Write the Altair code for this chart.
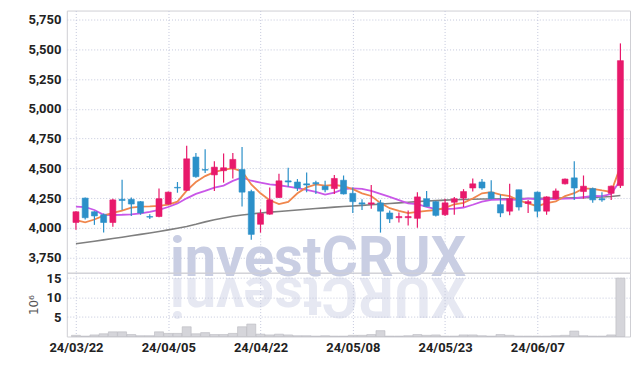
import altair as alt
import pandas as pd

dates = ["24/03/22", "24/03/25", "24/03/26", "24/03/27", "24/03/28", "24/03/29",
         "24/04/01", "24/04/02", "24/04/03", "24/04/04", "24/04/05", "24/04/08",
         "24/04/09", "24/04/11", "24/04/12", "24/04/15", "24/04/16", "24/04/17",
         "24/04/18", "24/04/19", "24/04/22", "24/04/23", "24/04/24", "24/04/25",
         "24/04/26", "24/04/29", "24/04/30", "24/05/02", "24/05/03", "24/05/07",
         "24/05/08", "24/05/09", "24/05/10", "24/05/13", "24/05/14", "24/05/16",
         "24/05/17", "24/05/20", "24/05/21", "24/05/22", "24/05/23", "24/05/24",
         "24/05/27", "24/05/28", "24/05/29", "24/05/30", "24/05/31", "24/06/03",
         "24/06/04", "24/06/05", "24/06/07", "24/06/10", "24/06/11", "24/06/12",
         "24/06/13", "24/06/14", "24/06/17", "24/06/18", "24/06/19", "24/06/20"]

open_ = [4045, 4250, 4135, 4110, 4045, 4240, 4240, 4220, 4095, 4095,
         4200, 4340, 4315, 4595, 4490, 4445, 4480, 4500, 4490, 4305,
         4030, 4115, 4255, 4395, 4385, 4370, 4380, 4350, 4330, 4400,
         4290, 4210, 4200, 4210, 4125, 4085, 4085, 4080, 4245, 4220,
         4110, 4215, 4250, 4335, 4385, 4300, 4195, 4140, 4320, 4205,
         4300, 4140, 4245, 4370, 4420, 4305, 4330, 4245, 4290, 4355]
close = [4135, 4085, 4100, 4045, 4235, 4230, 4200, 4125, 4090, 4245,
         4300, 4335, 4580, 4430, 4485, 4510, 4505, 4575, 4300, 3945,
         4120, 4235, 4395, 4385, 4335, 4360, 4370, 4320, 4415, 4285,
         4220, 4200, 4210, 4140, 4075, 4095, 4095, 4260, 4180, 4105,
         4210, 4245, 4305, 4370, 4335, 4245, 4125, 4245, 4175, 4220,
         4140, 4260, 4310, 4410, 4335, 4350, 4235, 4235, 4350, 5405]
high = [4140, 4255, 4140, 4120, 4245, 4405, 4255, 4225, 4115, 4330,
        4305, 4385, 4690, 4630, 4660, 4560, 4625, 4630, 4680, 4320,
        4155, 4340, 4455, 4505, 4410, 4465, 4395, 4395, 4445, 4440,
        4340, 4240, 4360, 4235, 4145, 4130, 4145, 4300, 4310, 4225,
        4245, 4260, 4325, 4415, 4410, 4400, 4280, 4370, 4320, 4235,
        4305, 4265, 4330, 4415, 4560, 4440, 4340, 4300, 4355, 5550]
low = [3985, 4070, 4025, 3960, 4010, 4150, 4100, 4110, 4075, 4090,
       4195, 4295, 4310, 4420, 4460, 4310, 4380, 4415, 4180, 3900,
       3960, 4110, 4250, 4345, 4310, 4300, 4285, 4300, 4285, 4280,
       4125, 4150, 4160, 3960, 4040, 4045, 4020, 4000, 4180, 4095,
       4100, 4110, 4175, 4305, 4320, 4240, 4090, 4105, 4145, 4125,
       4090, 4110, 4240, 4365, 4235, 4245, 4210, 4220, 4235, 4335]
volume_m = [0.3, 0.1, 0.4, 0.7, 1.2, 1.2, 0.5, 0.2, 0.2, 1.2,
            0.8, 0.8, 2.5, 0.7, 1.0, 0.5, 0.5, 0.8, 2.5, 3.2,
            0.6, 0.4, 0.6, 0.4, 0.2, 0.2, 0.1, 0.2, 0.1, 0.1,
            0.3, 0.3, 0.5, 1.5, 0.1, 0.1, 0.2, 0.5, 0.3, 0.4,
            0.1, 0.1, 0.4, 0.4, 0.2, 0.1, 0.5, 0.3, 0.1, 0.1,
            0.1, 0.1, 0.2, 0.3, 1.4, 0.2, 0.1, 0.1, 0.4, 15.0]
ma5 = [4064, 4047, 4070, 4103, 4125, 4145, 4170, 4178, 4180, 4185,
       4195, 4220, 4312, 4385, 4435, 4468, 4490, 4500, 4475, 4365,
       4290, 4232, 4200, 4218, 4290, 4340, 4365, 4355, 4360, 4350,
       4325, 4290, 4268, 4208, 4165, 4142, 4124, 4134, 4142, 4150,
       4168, 4198, 4210, 4246, 4290, 4300, 4280, 4266, 4230, 4205,
       4182, 4208, 4222, 4267, 4291, 4332, 4328, 4314, 4302, 4515]
ma10 = [4178, 4175, 4150, 4110, 4108, 4110, 4114, 4122, 4135, 4152,
        4175, 4205, 4248, 4285, 4310, 4338, 4355, 4395, 4424, 4396,
        4380, 4366, 4358, 4346, 4333, 4320, 4303, 4280, 4296, 4325,
        4332, 4328, 4310, 4286, 4260, 4233, 4206, 4200, 4176, 4158,
        4157, 4162, 4171, 4194, 4220, 4235, 4238, 4237, 4236, 4247,
        4240, 4242, 4242, 4246, 4247, 4257, 4268, 4267, 4284, 4403]
ma_long = [3866, 3877, 3888, 3899, 3910, 3921, 3933, 3945, 3957, 3970,
           3983, 3997, 4012, 4030, 4050, 4068, 4083, 4097, 4108, 4117,
           4125, 4132, 4138, 4144, 4150, 4156, 4162, 4168, 4174, 4179,
           4184, 4189, 4194, 4199, 4204, 4210, 4215, 4220, 4225, 4229,
           4233, 4236, 4238, 4240, 4242, 4243, 4244, 4245, 4246, 4247,
           4248, 4249, 4250, 4251, 4252, 4254, 4256, 4259, 4263, 4272]

date_ticks = [0, 10, 20, 30, 40, 50]
price_ticks = [3750, 4000, 4250, 4500, 4750, 5000, 5250, 5500, 5750]
volume_ticks = [5, 10, 15]
watermark = "investCRUX"
watermark_reflect = "XURCtsevni"

UP = "#e8196b"
DOWN = "#2b90c9"
GRID = "#c4c8dc"
FONT = "Roboto"

df = pd.DataFrame({
    "i": list(range(len(dates))), "date": dates, "open": open_, "high": high,
    "low": low, "close": close, "vol": volume_m, "ma5": ma5, "ma10": ma10,
    "mal": ma_long,
})

label_expr = " : ".join(
    f"datum.value == {t} ? '{dates[t]}'" for t in date_ticks) + " : ''"

xscale = alt.Scale(domain=[-0.45, 59.5], nice=False, zero=False)
yscale = alt.Scale(domain=[3623, 5826], nice=False, zero=False)
yax = alt.Axis(values=price_ticks, format=",d", title=None,
               minExtent=58, maxExtent=58)

W = 565

x_price = alt.X("i:Q", scale=xscale, axis=alt.Axis(
    values=date_ticks, labels=False, ticks=False, domain=False, grid=True,
    title=None, minExtent=0, maxExtent=0))

cond = alt.condition("datum.close >= datum.open", alt.value(UP), alt.value(DOWN))

base = alt.Chart(df).encode(x=x_price)

wm_df = pd.DataFrame({"t": [watermark], "r": [watermark_reflect]})
wm = alt.Chart(wm_df).mark_text(
    font=FONT, fontSize=56, fontWeight="bold", color="#c9cee3",
    align="center", baseline="alphabetic").encode(
    x=alt.value(252), y=alt.value(266), text="t:N")
wm_r = alt.Chart(wm_df).mark_text(
    font=FONT, fontSize=56, fontWeight="bold", color="#e6e8f2", angle=180,
    align="center", baseline="alphabetic").encode(
    x=alt.value(252), y=alt.value(268), text="r:N")

line_long = base.mark_line(color="#7f7f7f", strokeWidth=1.6).encode(
    y=alt.Y("mal:Q", scale=yscale, axis=yax))
line10 = base.mark_line(color="#c957e8", strokeWidth=1.8).encode(
    y=alt.Y("ma10:Q", scale=yscale, axis=yax))
line5 = base.mark_line(color="#f0874d", strokeWidth=1.8).encode(
    y=alt.Y("ma5:Q", scale=yscale, axis=yax))
wick = base.mark_rule(strokeWidth=1.2).encode(
    y=alt.Y("low:Q", scale=yscale, axis=yax), y2="high:Q", color=cond)
body = base.mark_bar(width=6, strokeWidth=0.6).encode(
    y=alt.Y("open:Q", scale=yscale, axis=yax), y2="close:Q", color=cond,
    stroke=cond)

price = alt.layer(wm, wm_r, line_long, line10, line5, wick, body).properties(
    width=W, height=263)

vol = alt.Chart(df).mark_bar(
    width=9, color="#d5d5da", stroke="#b9b9bf", strokeWidth=0.6).encode(
    x=alt.X("i:Q", scale=xscale, axis=alt.Axis(
        values=date_ticks, labelExpr=label_expr, ticks=False, domain=False,
        grid=True, title=None, labelFontSize=13, labelPadding=5,
        labelFlush=False)),
    y=alt.Y("vol:Q", scale=alt.Scale(domain=[0, 16.4], nice=False),
            axis=alt.Axis(values=volume_ticks, title="10⁶", titleFontSize=12,
                          titleFontWeight="normal", titleColor="#555555",
                          titleFont="DejaVu Sans", titleX=-33, titleY=32,
                          titleAlign="center", titleBaseline="middle",
                          minExtent=58, maxExtent=58)),
).properties(width=W, height=64)

chart = alt.vconcat(price, vol, spacing=0, bounds="flush").properties(
    padding={"left": 0, "top": 1, "right": 0, "bottom": 0}
).configure_view(stroke="#cfcfd4", strokeWidth=1).configure_axis(
    labelFont=FONT, labelFontSize=13, labelFontWeight="bold",
    labelColor="#222222", labelPadding=6, ticks=False, domain=False,
    gridColor=GRID, gridDash=[1, 2], gridWidth=1,
)

chart.save("out.html", embed_options={"renderer": "svg", "actions": False})
